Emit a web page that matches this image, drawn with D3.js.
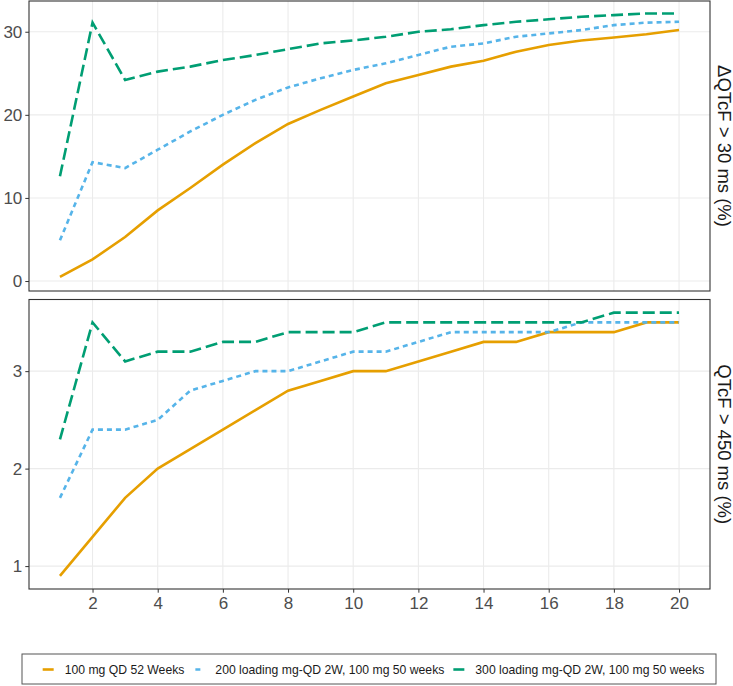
<!DOCTYPE html>
<html>
<head>
<meta charset="utf-8">
<script src="https://cdn.jsdelivr.net/npm/d3@7/dist/d3.min.js"></script>
<style>
  body { margin: 0; background: #fff; }
  svg { display: block; font-family: "Liberation Sans", Arial, sans-serif; }
</style>
</head>
<body>
<svg id="chart" width="733" height="686"></svg>
<script>
// ---- data ----
const weeks = [1,2,3,4,5,6,7,8,9,10,11,12,13,14,15,16,17,18,19,20];
const seriesNames = ["100 mg QD 52 Weeks", "200 loading mg-QD 2W, 100 mg 50 weeks", "300 loading mg-QD 2W, 100 mg 50 weeks"];
const seriesColors = ["#E69F00", "#56B4E9", "#009E73"];
const panelLabels = ["\u0394QTcF > 30 ms (%)", "QTcF > 450 ms (%)"];

// Panel 1: dQTcF > 30 ms (%)
const dqtcf100 = [0.5, 2.6, 5.3, 8.5, 11.2, 14.0, 16.6, 18.9, 20.6, 22.2, 23.8, 24.8, 25.8, 26.5, 27.6, 28.4, 28.95, 29.3, 29.7, 30.2];
const dqtcf200 = [4.9, 14.3, 13.6, 15.8, 18.0, 20.0, 21.8, 23.3, 24.4, 25.4, 26.2, 27.2, 28.2, 28.6, 29.4, 29.8, 30.2, 30.8, 31.1, 31.2];
const dqtcf300 = [12.6, 31.1, 24.2, 25.2, 25.8, 26.6, 27.2, 27.9, 28.6, 28.95, 29.4, 30.0, 30.3, 30.8, 31.2, 31.5, 31.8, 32.0, 32.2, 32.2];

// Panel 2: QTcF > 450 ms (%)
const qtcf100 = [0.9, 1.3, 1.7, 2.0, 2.2, 2.4, 2.6, 2.8, 2.9, 3.0, 3.0, 3.1, 3.2, 3.3, 3.3, 3.4, 3.4, 3.4, 3.5, 3.5];
const qtcf200 = [1.7, 2.4, 2.4, 2.5, 2.8, 2.9, 3.0, 3.0, 3.1, 3.2, 3.2, 3.3, 3.4, 3.4, 3.4, 3.4, 3.5, 3.5, 3.5, 3.5];
const qtcf300 = [2.3, 3.5, 3.1, 3.2, 3.2, 3.3, 3.3, 3.4, 3.4, 3.4, 3.5, 3.5, 3.5, 3.5, 3.5, 3.5, 3.5, 3.6, 3.6, 3.6];

const xTicks = [2,4,6,8,10,12,14,16,18,20];
const yTicks1 = [0,10,20,30];
const yTicks2 = [1,2,3];

// ---- layout ----
const svg = d3.select("#chart");
const left = 29, right = 710;
const panels = [
  { top: 1, bottom: 291, data: [dqtcf100, dqtcf200, dqtcf300], domain: [-1.2, 33.7], ticks: yTicks1, label: panelLabels[0] },
  { top: 299.5, bottom: 589, data: [qtcf100, qtcf200, qtcf300], domain: [0.765, 3.735], ticks: yTicks2, label: panelLabels[1] }
];
const dashes = [null, "5,4", "12,5"];
const lw = 2.6;

const x = d3.scaleLinear().domain([0.05, 20.95]).range([left, right]);

panels.forEach((p, pi) => {
  const y = d3.scaleLinear().domain(p.domain).range([p.bottom, p.top]);
  const g = svg.append("g");
  g.append("rect").attr("x", left).attr("y", p.top).attr("width", right - left).attr("height", p.bottom - p.top).attr("fill", "#fff");
  g.selectAll(".vg").data(xTicks).enter().append("line")
    .attr("x1", d => x(d)).attr("x2", d => x(d)).attr("y1", p.top).attr("y2", p.bottom)
    .attr("stroke", "#EBEBEB").attr("stroke-width", 1.1);
  g.selectAll(".hg").data(p.ticks).enter().append("line")
    .attr("x1", left).attr("x2", right).attr("y1", d => y(d)).attr("y2", d => y(d))
    .attr("stroke", "#EBEBEB").attr("stroke-width", 1.1);

  const line = d3.line().x((d, i) => x(weeks[i])).y(d => y(d));
  p.data.forEach((vals, si) => {
    g.append("path").datum(vals).attr("d", line)
      .attr("fill", "none").attr("stroke", seriesColors[si]).attr("stroke-width", lw)
      .attr("stroke-dasharray", dashes[si]);
  });

  const ya = d3.axisLeft(y).tickValues(p.ticks).tickSize(3.7).tickPadding(3).tickFormat(d3.format("d"));
  const yg = svg.append("g").attr("transform", `translate(${left},0)`).call(ya);
  yg.select(".domain").remove();
  yg.selectAll(".tick line").attr("stroke", "#333").attr("stroke-width", 1);
  yg.selectAll(".tick text").attr("fill", "#4D4D4D").style("font-size", "17px")
    .style("font-family", "'Liberation Sans', Arial, sans-serif");

  svg.append("rect").attr("x", left).attr("y", p.top).attr("width", right - left).attr("height", p.bottom - p.top)
    .attr("fill", "none").attr("stroke", "#333").attr("stroke-width", 1.1);

  const cy = (p.top + p.bottom) / 2;
  svg.append("text").attr("transform", `translate(724,${cy}) rotate(90)`)
    .attr("text-anchor", "middle").attr("dominant-baseline", "central")
    .attr("fill", "#1A1A1A").style("font-size", "18.5px").text(p.label);

  if (pi === 1) {
    const xa = d3.axisBottom(x).tickValues(xTicks).tickSize(3.7).tickPadding(4).tickFormat(d3.format("d"));
    const xg = svg.append("g").attr("transform", `translate(0,${p.bottom})`).call(xa);
    xg.select(".domain").remove();
    xg.selectAll(".tick line").attr("stroke", "#333").attr("stroke-width", 1);
    xg.selectAll(".tick text").attr("fill", "#4D4D4D").style("font-size", "17px")
      .style("font-family", "'Liberation Sans', Arial, sans-serif");
  }
});

// ---- legend ----
const lg = svg.append("g");
lg.append("rect").attr("x", 22).attr("y", 654).attr("width", 694).attr("height", 30)
  .attr("fill", "#fff").attr("stroke", "#555").attr("stroke-width", 1);
const keyW = 11, keyGap = 11, itemGap = 9, ly = 669.5;
const items = lg.selectAll(".item").data(seriesNames).enter().append("g");
items.append("text").attr("class", "lt").attr("y", ly).attr("dominant-baseline", "central")
  .attr("fill", "#1A1A1A").style("font-size", "12.2px").text(d => d);
const widths = [];
items.selectAll(".lt").each(function () { widths.push(this.getComputedTextLength()); });
let total = 0;
widths.forEach((w, i) => { total += keyW + keyGap + w + (i < widths.length - 1 ? itemGap : 0); });
let cx = 373.5 - total / 2;
const keyDash = [null, "0,2,5,20", null];
items.each(function (d, i) {
  const it = d3.select(this);
  it.insert("line", "text").attr("x1", cx).attr("x2", cx + keyW).attr("y1", ly).attr("y2", ly)
    .attr("stroke", seriesColors[i]).attr("stroke-width", lw).attr("stroke-dasharray", keyDash[i]);
  it.select("text").attr("x", cx + keyW + keyGap);
  cx += keyW + keyGap + widths[i] + itemGap;
});
</script>
</body>
</html>
